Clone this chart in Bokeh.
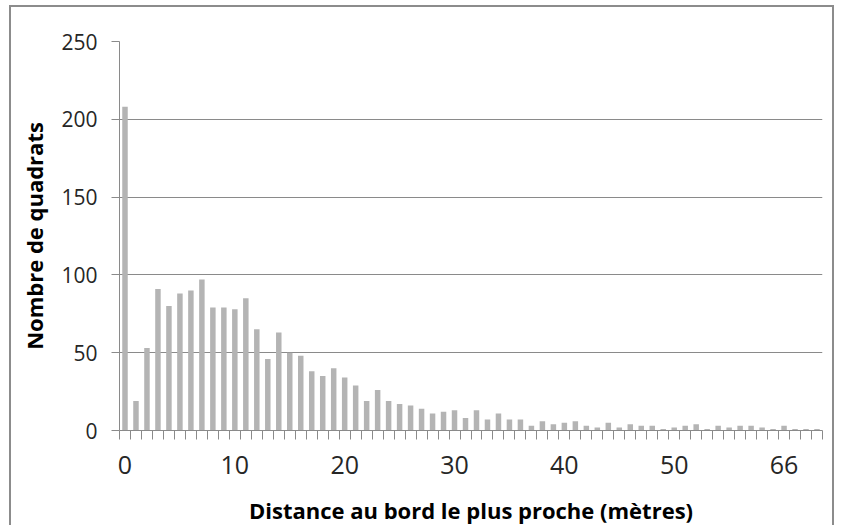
from bokeh.plotting import figure
from bokeh.models import FixedTicker, Range1d, ColumnDataSource
from bokeh.embed import file_html
from bokeh.resources import INLINE

# Data
category_index = list(range(64))
counts = [208, 19, 53, 91, 80, 88, 90, 97, 79, 79, 78, 85, 65, 46, 63, 50,
          48, 38, 35, 40, 34, 29, 19, 26, 19, 17, 16, 14, 11, 12, 13, 8,
          13, 7, 11, 7, 7, 3, 6, 4, 5, 6, 3, 2, 5, 2, 4, 3,
          3, 1, 2, 3, 4, 1, 3, 2, 3, 3, 2, 1, 3, 1, 1, 1]
x_tick_positions = [0, 10, 20, 30, 40, 50, 60]
x_tick_labels = ["0", "10", "20", "30", "40", "50", "66"]
y_ticks = [0, 50, 100, 150, 200, 250]

AXIS_GREY = "#8a8a8a"
BAR_GREY = "#b4b4b4"
FONT = "Open Sans"

src = ColumnDataSource(dict(x=category_index, top=counts))

p = figure(width=825, height=520, output_backend="svg", toolbar_location=None,
           x_range=Range1d(-0.5, len(category_index) - 0.5),
           y_range=Range1d(0, 250),
           min_border_left=108, min_border_right=14,
           min_border_top=34, min_border_bottom=96)
p.margin = (5, 0, 0, 9)
p.styles = {"border-top": "2px solid #8c8c8c", "border-left": "2px solid #8c8c8c",
            "border-right": "2px solid #8c8c8c"}
p.outline_line_color = None
p.background_fill_color = "white"
p.border_fill_color = "white"

p.vbar(x="x", top="top", width=0.5, bottom=0, source=src,
       fill_color=BAR_GREY, line_color=None)

# grid
p.xgrid.grid_line_color = None
p.ygrid.grid_line_color = AXIS_GREY
p.ygrid.grid_line_width = 1
p.ygrid.ticker = FixedTicker(ticks=y_ticks)

# y axis
p.yaxis.ticker = FixedTicker(ticks=y_ticks)
p.yaxis.axis_line_color = AXIS_GREY
p.yaxis.major_tick_line_color = AXIS_GREY
p.yaxis.major_tick_out = 8
p.yaxis.major_tick_in = 0
p.yaxis.minor_tick_line_color = None
p.yaxis.major_label_text_font = FONT
p.yaxis.major_label_text_font_size = "21px"
p.yaxis.major_label_text_color = "#262626"
p.yaxis.major_label_standoff = 14
p.yaxis.axis_label = "Nombre de quadrats"
p.yaxis.axis_label_text_font = FONT
p.yaxis.axis_label_text_font_style = "bold"
p.yaxis.axis_label_text_font_size = "22px"
p.yaxis.axis_label_text_color = "black"
p.yaxis.axis_label_standoff = 9

# x axis: labels at category centres, ticks at category boundaries
boundaries = [i - 0.5 for i in range(len(category_index) + 1)]
p.xaxis.ticker = FixedTicker(ticks=x_tick_positions, minor_ticks=boundaries)
p.xaxis.major_label_overrides = {t: l for t, l in zip(x_tick_positions, x_tick_labels)}
p.xaxis.axis_line_color = AXIS_GREY
p.xaxis.major_tick_line_color = None
p.xaxis.major_tick_out = 9
p.xaxis.major_tick_in = 0
p.xaxis.minor_tick_line_color = AXIS_GREY
p.xaxis.minor_tick_out = 9
p.xaxis.minor_tick_in = 0
p.xaxis.major_label_text_font = FONT
p.xaxis.major_label_text_font_size = "25px"
p.xaxis.major_label_text_color = "#262626"
p.xaxis.major_label_standoff = 16
p.xaxis.axis_label = "Distance au bord le plus proche (mètres)"
p.xaxis.axis_label_text_font = FONT
p.xaxis.axis_label_text_font_style = "bold"
p.xaxis.axis_label_text_font_size = "22px"
p.xaxis.axis_label_text_color = "black"
p.xaxis.axis_label_standoff = 18

open("out.html", "w").write(file_html(p, INLINE))
